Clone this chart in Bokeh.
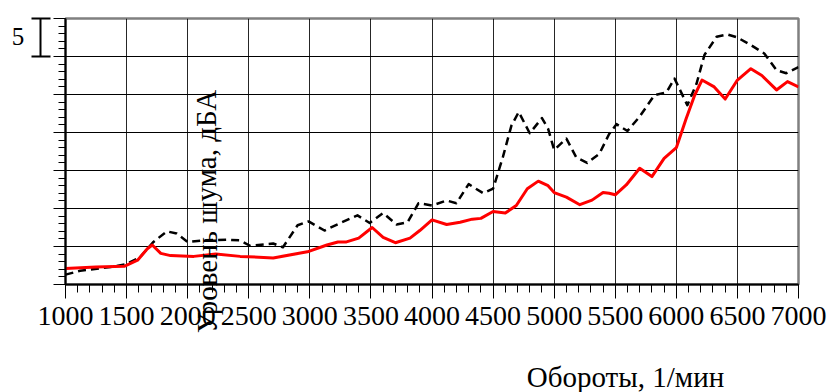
from bokeh.plotting import figure
from bokeh.models import Range1d, FixedTicker, Label, LinearAxis
from bokeh.embed import file_html
from bokeh.resources import INLINE

# Data (rpm vs noise level, dBA)
red_rpm = [1000, 1250, 1480, 1590, 1670, 1710, 1780, 1860, 2050, 2230, 2430, 2700, 2980,
           3140, 3230, 3300, 3400, 3510, 3600, 3700, 3820, 3900, 4000, 4120, 4230, 4330,
           4400, 4500, 4600, 4690, 4780, 4870, 4950, 5000, 5100, 5210, 5310, 5400, 5450,
           5500, 5590, 5700, 5800, 5900, 6000, 6080, 6150, 6210, 6310, 6400, 6500, 6610,
           6700, 6820, 6910, 7000]
red_db = [62.1, 62.3, 62.4, 63.2, 64.7, 65.2, 64.1, 63.8, 63.7, 64.0, 63.7, 63.5, 64.3,
          65.2, 65.6, 65.6, 66.1, 67.5, 66.2, 65.5, 66.1, 67.1, 68.5, 67.9, 68.2, 68.6,
          68.7, 69.6, 69.4, 70.4, 72.6, 73.6, 73.0, 72.1, 71.5, 70.5, 71.1, 72.1, 72.0,
          71.8, 73.1, 75.3, 74.2, 76.6, 78.0, 81.8, 84.9, 86.9, 86.0, 84.4, 86.9, 88.4,
          87.5, 85.6, 86.7, 86.0]

black_rpm = [1000, 1120, 1370, 1500, 1610, 1720, 1830, 1910, 2000, 2130, 2320, 2430, 2510,
             2700, 2780, 2900, 2990, 3120, 3250, 3390, 3490, 3600, 3710, 3800, 3890, 4000,
             4120, 4200, 4300, 4420, 4500, 4580, 4650, 4710, 4800, 4900, 4950, 5000, 5100,
             5180, 5270, 5370, 5450, 5510, 5600, 5700, 5820, 5920, 5985, 6090, 6165, 6230,
             6330, 6420, 6500, 6610, 6720, 6820, 6900, 7000]
black_db = [61.3, 61.8, 62.3, 62.7, 63.6, 65.6, 67.0, 66.7, 65.6, 65.8, 65.9, 65.8, 65.1,
            65.4, 64.9, 67.8, 68.3, 67.1, 68.1, 69.1, 68.1, 69.4, 67.9, 68.2, 70.7, 70.4,
            71.05, 70.7, 73.2, 72.0, 72.6, 76.75, 80.9, 82.7, 79.9, 81.9, 80.5, 77.7, 79.2,
            76.75, 76.0, 77.2, 79.8, 81.1, 80.2, 82.1, 84.9, 85.3, 87.1, 83.6, 86.4, 90.2,
            92.6, 92.9, 92.5, 91.5, 90.4, 88.2, 87.8, 88.6]

x_ticks = list(range(1000, 7001, 500))
x_minor = list(range(1000, 7001, 100))
y_ticks = list(range(60, 96, 5))
y_minor = list(range(60, 96, 1))

# scale marker: one major division (5 dB), drawn left of the axis
scale_text = "5"
scale_marks = [90, 95]

x_title = "Обороты, 1/мин"
y_title = "Уровень шума, дБА"

FONT = "Liberation Serif"

p = figure(width=830, height=392, output_backend="svg", toolbar_location=None,
           x_range=Range1d(1000, 7000), y_range=Range1d(60, 95),
           min_border_left=65, min_border_right=31, min_border_top=18, min_border_bottom=108)

p.outline_line_color = "#808080"
p.outline_line_width = 2.5

p.xaxis.ticker = FixedTicker(ticks=x_ticks, minor_ticks=x_minor)
p.yaxis.ticker = FixedTicker(ticks=y_ticks, minor_ticks=y_minor)

for ax in (p.xaxis, p.yaxis):
    ax.axis_line_color = "black"
    ax.axis_line_width = 2
    ax.major_tick_line_color = "black"
    ax.minor_tick_line_color = "black"
    ax.major_tick_line_width = 1
    ax.minor_tick_line_width = 1
    ax.major_tick_in = 0
    ax.minor_tick_in = 0

p.xaxis.major_tick_out = 14
p.xaxis.minor_tick_out = 8
p.yaxis.major_tick_out = 12
p.yaxis.minor_tick_out = 7

p.xaxis.major_label_text_font = FONT
p.xaxis.major_label_text_font_size = "28px"
p.xaxis.major_label_text_color = "black"
p.xaxis.major_label_standoff = 8
p.yaxis.major_label_text_font_size = "0px"
p.yaxis.major_label_standoff = 0

p.xgrid.ticker = FixedTicker(ticks=x_ticks)
p.ygrid.ticker = FixedTicker(ticks=y_ticks)
p.xgrid.grid_line_color = "black"
p.ygrid.grid_line_color = "black"
p.xgrid.grid_line_width = 1
p.ygrid.grid_line_width = 1
p.xgrid.grid_line_alpha = 0.85
p.ygrid.grid_line_alpha = 1.0

p.line(black_rpm, black_db, line_color="black", line_width=2.5, line_dash="8 5",
       line_join="round")
p.line(red_rpm, red_db, line_color="#ff0000", line_width=3, line_join="round")

# x title (canvas pixel units; in a side panel so it is not clipped)
p.add_layout(Label(x=625, y=376, x_units="canvas", y_units="canvas", text=x_title,
                   text_font=FONT, text_font_size="29px", text_color="black",
                   text_align="center", text_baseline="alphabetic"), "below")

# scale marker "5"
p.add_layout(Label(x=17.5, y=36, x_units="canvas", y_units="canvas", text=scale_text,
                   text_font=FONT, text_font_size="25px", text_color="black",
                   text_align="center", text_baseline="alphabetic"), "left")

# bracket of the scale marker: a short bounded axis with capped ends
scale_axis = LinearAxis(bounds=(scale_marks[0], scale_marks[1]),
                        ticker=FixedTicker(ticks=scale_marks, minor_ticks=[]),
                        axis_line_color="black", axis_line_width=2,
                        major_tick_line_color="black", major_tick_line_width=2,
                        major_tick_in=10, major_tick_out=9,
                        minor_tick_line_color=None,
                        major_label_text_font_size="0px", major_label_standoff=0)
p.add_layout(scale_axis, "left")

# y title over the plot
p.add_layout(Label(x=206, y=211, x_units="canvas", y_units="canvas", text=y_title,
                   angle=1.5708, angle_units="rad",
                   text_font=FONT, text_font_size="29px", text_color="black",
                   text_align="center", text_baseline="alphabetic"), "right")

open("out.html", "w").write(file_html(p, INLINE))
